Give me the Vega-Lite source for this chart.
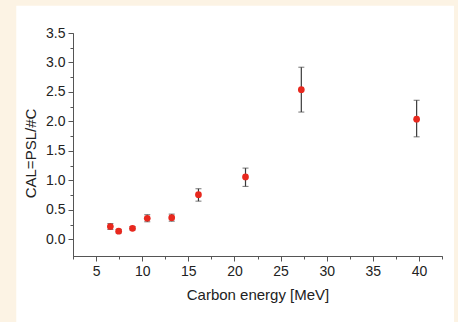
{
  "$schema": "https://vega.github.io/schema/vega-lite/v6.json",
  "width": 369,
  "height": 223,
  "autosize": {"type": "none"},
  "padding": {"left": 73, "top": 33, "right": 16, "bottom": 66},
  "background": "#fcf3e4",
  "config": {"view": {"stroke": null}, "font": "Liberation Sans"},
  "data": {
    "values": [
      {"energy": 6.55, "cal": 0.22, "lo": 0.17, "hi": 0.27},
      {"energy": 7.45, "cal": 0.14, "lo": 0.11, "hi": 0.17},
      {"energy": 8.95, "cal": 0.19, "lo": 0.16, "hi": 0.22},
      {"energy": 10.55, "cal": 0.36, "lo": 0.3, "hi": 0.42},
      {"energy": 13.2, "cal": 0.37, "lo": 0.31, "hi": 0.43},
      {"energy": 16.1, "cal": 0.76, "lo": 0.65, "hi": 0.86},
      {"energy": 21.2, "cal": 1.06, "lo": 0.9, "hi": 1.21},
      {"energy": 27.25, "cal": 2.54, "lo": 2.16, "hi": 2.92},
      {"energy": 39.75, "cal": 2.04, "lo": 1.74, "hi": 2.36}
    ]
  },
  "layer": [
    {
      "data": {"values": [{"panel": "background"}]},
      "mark": {"type": "rect", "color": "white"},
      "encoding": {
        "x": {"datum": -3.65, "type": "quantitative", "scale": {"domain": [2.5, 42.5]}, "axis": null},
        "x2": {"datum": 43.8},
        "y": {"datum": 3.96, "type": "quantitative", "scale": {"domain": [-0.28, 3.5]}, "axis": null},
        "y2": {"datum": -1.6}
      }
    },
    {
      "mark": {"type": "errorbar", "ticks": {"size": 6, "color": "#3a3a3a"}, "rule": {"color": "#3a3a3a", "strokeWidth": 1.2}},
      "encoding": {
        "x": {"field": "energy", "type": "quantitative", "scale": {"domain": [2.5, 42.5]},
          "axis": {"orient": "bottom", "values": [2.5, 7.5, 12.5, 17.5, 22.5, 27.5, 32.5, 37.5, 42.5], "labels": false, "tickSize": 3, "title": null, "grid": false, "domainColor": "#555", "tickColor": "#555", "zindex": 2}},
        "y": {"field": "lo", "type": "quantitative", "scale": {"domain": [-0.28, 3.5]},
          "axis": {"orient": "left", "values": [0.25, 0.75, 1.25, 1.75, 2.25, 2.75, 3.25], "labels": false, "tickSize": 3, "title": null, "grid": false, "domainColor": "#555", "tickColor": "#555", "zindex": 2}},
        "y2": {"field": "hi"}
      }
    },
    {
      "mark": {"type": "circle", "size": 45, "color": "#e8281e", "opacity": 1},
      "encoding": {
        "x": {"field": "energy", "type": "quantitative", "scale": {"domain": [2.5, 42.5]},
          "axis": {"orient": "bottom", "values": [5, 10, 15, 20, 25, 30, 35, 40], "tickSize": 5, "labelFontSize": 14, "labelColor": "#222", "labelPadding": 3, "domainColor": "#555", "tickColor": "#555", "grid": false, "title": "Carbon energy [MeV]", "titleFontSize": 15, "titleFontWeight": "normal", "titleColor": "#222", "titlePadding": 9, "zindex": 2}},
        "y": {"field": "cal", "type": "quantitative", "scale": {"domain": [-0.28, 3.5]},
          "axis": {"orient": "left", "values": [0, 0.5, 1, 1.5, 2, 2.5, 3, 3.5], "format": ".1f", "tickSize": 5, "labelFontSize": 14, "labelColor": "#222", "labelPadding": 3, "domainColor": "#555", "tickColor": "#555", "grid": false, "title": "CAL=PSL/#C", "titleFontSize": 15, "titleFontWeight": "normal", "titleColor": "#222", "titlePadding": 7, "titleY": 120, "zindex": 2}}
      }
    }
  ],
  "resolve": {"axis": {"x": "independent", "y": "independent"}}
}
